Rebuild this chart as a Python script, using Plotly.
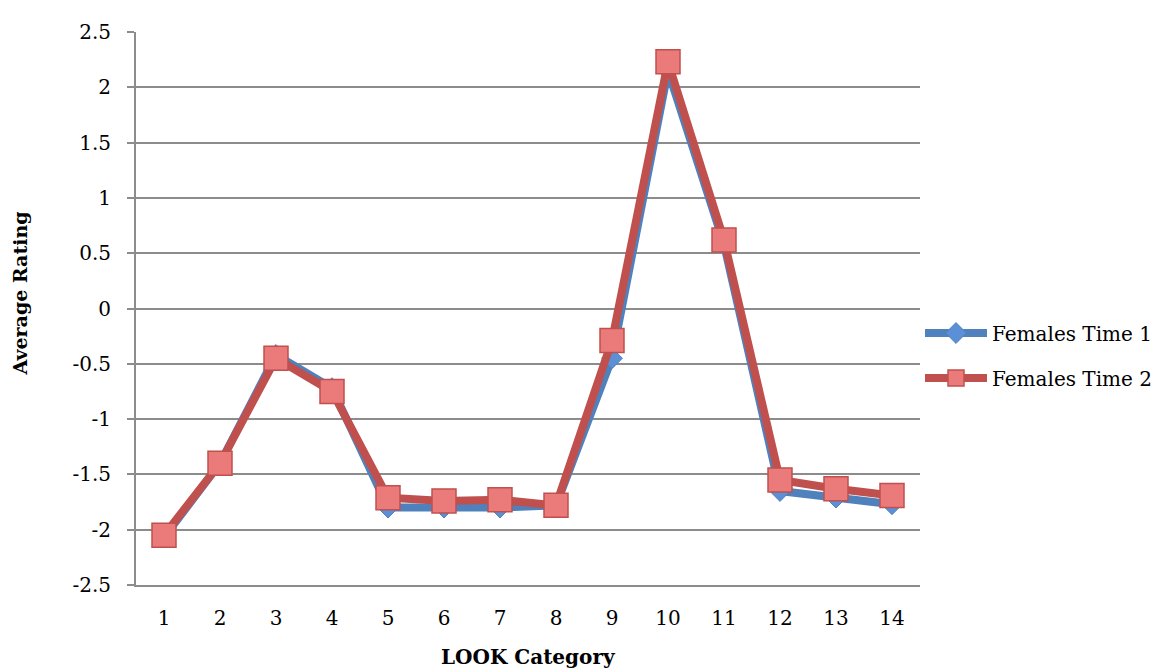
import plotly.graph_objects as go

categories = list(range(1, 15))
females_time1 = [-2.07, -1.40, -0.42, -0.72, -1.80, -1.80, -1.80, -1.78, -0.45, 2.15, 0.58, -1.65, -1.71, -1.77]
females_time2 = [-2.05, -1.40, -0.45, -0.75, -1.71, -1.74, -1.73, -1.78, -0.29, 2.23, 0.62, -1.55, -1.63, -1.69]
y_ticks = [-2.5, -2, -1.5, -1, -0.5, 0, 0.5, 1, 1.5, 2, 2.5]

FONT = "DejaVu Serif"

fig = go.Figure()
fig.add_trace(go.Scatter(
    x=categories, y=females_time1, mode="lines+markers", name="Females Time 1",
    legendgroup="t1",
    line=dict(color="#4F81BD", width=8),
    marker=dict(symbol="diamond", size=16, color="#5B8FD6", line=dict(color="#4F81BD", width=1)),
))
fig.add_trace(go.Scatter(
    x=categories, y=females_time2, mode="lines+markers", name="Females Time 2",
    legendgroup="t2",
    line=dict(color="#C0504D", width=8),
    marker=dict(symbol="square", size=24, color="#EB7A7B", line=dict(color="#C0504D", width=1.5)),
))

fig.update_layout(
    width=1175, height=672,
    margin=dict(l=128, r=263, t=15, b=95),
    paper_bgcolor="white", plot_bgcolor="white",
    font=dict(family=FONT, size=20, color="black"),
    showlegend=True,
    legend=dict(x=1.0, y=0.415, xanchor="left", yanchor="middle", xref="paper",
                font=dict(family=FONT, size=20, color="black"),
                itemwidth=62, tracegroupgap=16, bgcolor="rgba(0,0,0,0)"),
    xaxis=dict(
        range=[0.5, 14.5], tickmode="array", tickvals=categories,
        ticktext=[str(c) for c in categories],
        showgrid=False, showline=True, linecolor="#8C8C8C", linewidth=2,
        ticks="", zeroline=False, ticklabelstandoff=14,
        tickfont=dict(family=FONT, size=20),
    ),
    yaxis=dict(
        range=[-2.5, 2.5], tickmode="array", tickvals=y_ticks,
        ticktext=[("%g" % v) for v in y_ticks],
        showgrid=True, gridcolor="#8C8C8C", gridwidth=1.5,
        showline=True, linecolor="#8C8C8C", linewidth=2,
        ticks="outside", ticklen=7, tickcolor="#8C8C8C", tickwidth=1.5,
        zeroline=False, ticklabelstandoff=12,
        tickfont=dict(family=FONT, size=20),
    ),
    annotations=[
        dict(text="<b>Average Rating</b>", xref="paper", yref="paper",
             x=-0.148, y=0.527, textangle=-90, showarrow=False,
             xanchor="center", yanchor="middle",
             font=dict(family=FONT, size=19, color="black")),
        dict(text="<b>LOOK Category</b>", xref="paper", yref="paper",
             x=0.5, y=-0.13, showarrow=False,
             xanchor="center", yanchor="middle",
             font=dict(family=FONT, size=20, color="black")),
    ],
)

fig.write_html("out.html")
